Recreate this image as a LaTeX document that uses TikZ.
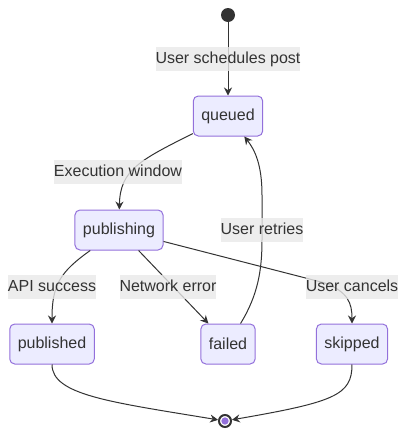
\documentclass[tikz,border=0pt]{standalone}
\usepackage{fontspec}
\setmainfont{Liberation Sans}
\usetikzlibrary{arrows.meta}
\definecolor{ink}{HTML}{333333}
\definecolor{stateFill}{HTML}{ECECFF}
\definecolor{stateLine}{HTML}{9370DB}
\definecolor{labelGray}{HTML}{E8E8E8}
\newcommand{\labelfont}{\fontsize{12}{14}\selectfont}

\begin{document}
\begin{tikzpicture}[
            x=0.75pt, y=-0.75pt,
            >={Stealth[width=6pt,length=6pt,inset=2pt]},
                base/.style = {rectangle, rounded corners=3.75pt, draw=stateLine,
                            line width=0.75pt, fill=stateFill, minimum height=30pt,
                            inner xsep=6pt, text=ink, font=\labelfont},
                initial/.style = {circle, fill=ink, inner sep=0pt, minimum size=10.5pt},
                final/.style = {circle, draw=ink, line width=1.5pt, fill=white,
                            inner sep=0pt, minimum size=9pt},
                finaldot/.style = {circle, fill=stateLine, inner sep=0pt, minimum size=5.5pt},
                edgelabel/.style = {fill=labelGray, fill opacity=0.8, text opacity=1,
                            text=ink, inner xsep=0pt, inner ysep=3.25pt, text height=9pt,
                            text depth=2.5pt, font=\labelfont},
                line/.style = {draw=ink, line width=0.75pt}]
            \useasboundingbox (0,0) rectangle (406,436);
            \node (start) [initial] at (228,15) {};
            \node (queued) [base] at (228,116) {queued};
            \node (publishing) [base] at (119,230) {publishing};
            \node (published) [base] at (52,344) {published};
            \node (failed) [base] at (228,344) {failed};
            \node (skipped) [base] at (352,344) {skipped};
            \node (end) [final] at (225,421) {};
            \node (enddot) [finaldot] at (end) {};
            \draw[line, ->] (start) -- (queued);
            \draw[line, ->] (queued) .. controls (140,160) and (120,170) .. (publishing);
            \draw[line, ->] (publishing) .. controls (60,272) and (52,285) .. (published);
            \draw[line, ->] (publishing) -- (failed);
            \draw[line, ->] (publishing) -- (325,283) .. controls (348,292) and (352,303) .. (skipped);
            \draw[line, ->] (failed) .. controls (258,295) and (262,270) .. (262,240)
                -- (262,195) .. controls (262,165) and (255,150) .. (queued);
            \draw[line, ->] (published) .. controls (52,395) and (110,402) .. (end);
            \draw[line, ->] (skipped) .. controls (352,395) and (335,402) .. (end);
            \node (lschedule) [edgelabel] at (228,59) {User schedules post};
            \node (lwindow) [edgelabel] at (118,172) {Execution window};
            \node (lretry) [edgelabel] at (262,230) {User retries};
            \node (lsuccess) [edgelabel] at (52,287) {API success};
            \node (lerror) [edgelabel] at (168,287) {Network error};
            \node (lcancel) [edgelabel] at (352,287) {User cancels};
        \end{tikzpicture}
\end{document}
